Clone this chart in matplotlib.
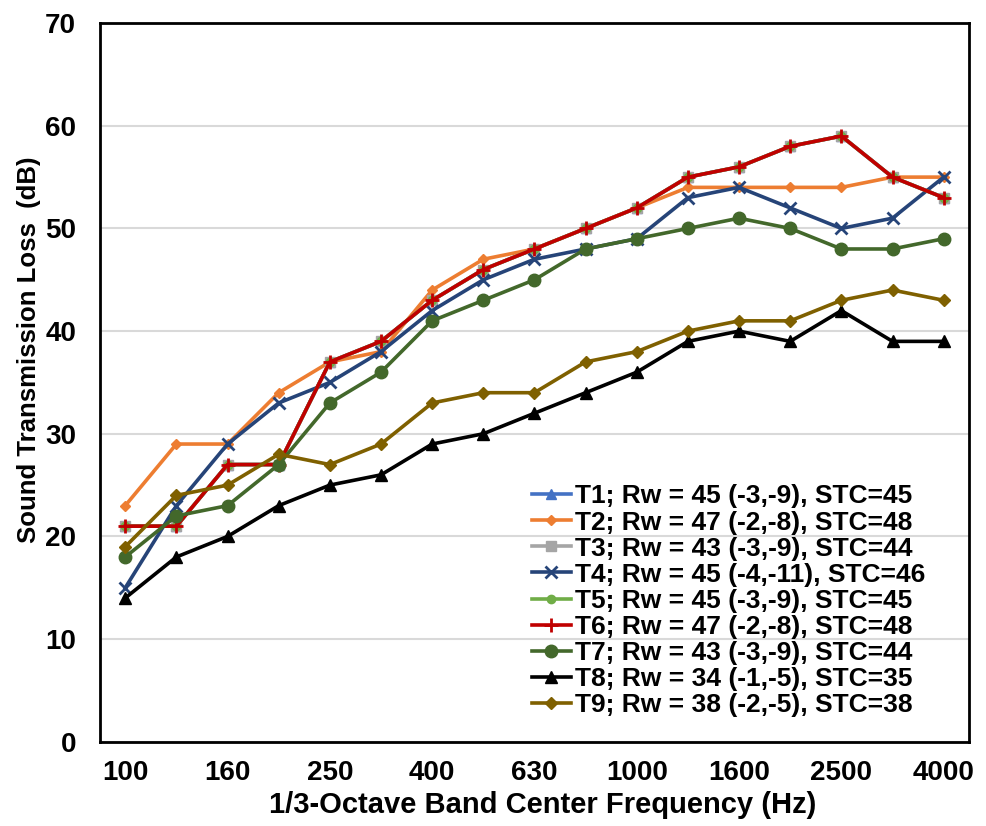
import numpy as np
import matplotlib.pyplot as plt

plt.rcParams['font.family'] = ['Liberation Sans', 'DejaVu Sans']
plt.rcParams['font.weight'] = 'bold'

# 1/3-octave band centres
freqs = [100, 125, 160, 200, 250, 315, 400, 500, 630, 800, 1000,
         1250, 1600, 2000, 2500, 3150, 4000]

t1 = [21, 21, 27, 27, 37, 39, 43, 46, 48, 50, 52, 55, 56, 58, 59, 55, 53]
t2 = [23, 29, 29, 34, 37, 38, 44, 47, 48, 50, 52, 54, 54, 54, 54, 55, 55]
t3 = [21, 21, 27, 27, 37, 39, 43, 46, 48, 50, 52, 55, 56, 58, 59, 55, 53]
t4 = [15, 23, 29, 33, 35, 38, 42, 45, 47, 48, 49, 53, 54, 52, 50, 51, 55]
t5 = [21, 21, 27, 27, 37, 39, 43, 46, 48, 50, 52, 55, 56, 58, 59, 55, 53]
t6 = [21, 21, 27, 27, 37, 39, 43, 46, 48, 50, 52, 55, 56, 58, 59, 55, 53]
t7 = [18, 22, 23, 27, 33, 36, 41, 43, 45, 48, 49, 50, 51, 50, 48, 48, 49]
t8 = [14, 18, 20, 23, 25, 26, 29, 30, 32, 34, 36, 39, 40, 39, 42, 39, 39]
t9 = [19, 24, 25, 28, 27, 29, 33, 34, 34, 37, 38, 40, 41, 41, 43, 44, 43]

labels = ["T1; Rw = 45 (-3,-9), STC=45",
          "T2; Rw = 47 (-2,-8), STC=48",
          "T3; Rw = 43 (-3,-9), STC=44",
          "T4; Rw = 45 (-4,-11), STC=46",
          "T5; Rw = 45 (-3,-9), STC=45",
          "T6; Rw = 47 (-2,-8), STC=48",
          "T7; Rw = 43 (-3,-9), STC=44",
          "T8; Rw = 34 (-1,-5), STC=35",
          "T9; Rw = 38 (-2,-5), STC=38"]

series = [t1, t2, t3, t4, t5, t6, t7, t8, t9]
colors = ["#4472C4", "#ED7D31", "#A5A5A5", "#264478", "#70AD47",
          "#C00000", "#43682B", "#000000", "#7F6000"]
markers = ["^", "D", "s", "x", "o", "+", "o", "^", "D"]
msizes = [7, 5, 7, 9, 6, 10, 9, 8, 6]

fig, ax = plt.subplots(figsize=(9.87, 8.26), dpi=100)
fig.subplots_adjust(left=0.101, right=0.982, top=0.972, bottom=0.102)

x = np.arange(len(freqs))
for y, c, m, ms, lab in zip(series, colors, markers, msizes, labels):
    ax.plot(x, y, color=c, marker=m, ms=ms, lw=2.6, mew=2 if m in "x+" else 1,
            label=lab)

ax.set_xlim(-0.5, len(freqs) - 0.5)
ax.set_ylim(0, 70)
ax.set_yticks(range(0, 71, 10))
ax.set_xticks(x[::2])
ax.set_xticklabels([str(f) for f in freqs[::2]])
ax.tick_params(length=0, labelsize=20)
ax.tick_params(axis='y', pad=17)
ax.tick_params(axis='x', pad=13)
ax.grid(axis='y', color='#d9d9d9', lw=1.5)
ax.set_axisbelow(True)
for s in ax.spines.values():
    s.set_linewidth(2)

ax.set_xlabel("1/3-Octave Band Center Frequency (Hz)", fontsize=21,
              fontweight='bold')
ax.set_ylabel("Sound Transmission Loss  (dB)", fontsize=18.5, fontweight='bold')
ax.xaxis.set_label_coords(0.509, -0.068)
ax.yaxis.set_label_coords(-0.068, 0.545)

ax.legend(loc='lower right', bbox_to_anchor=(0.968, 0.012), frameon=False,
          fontsize=19, handlelength=1.5, handletextpad=0.15, labelspacing=0.08,
          borderaxespad=0.2)

plt.savefig("out.png", dpi=100)
